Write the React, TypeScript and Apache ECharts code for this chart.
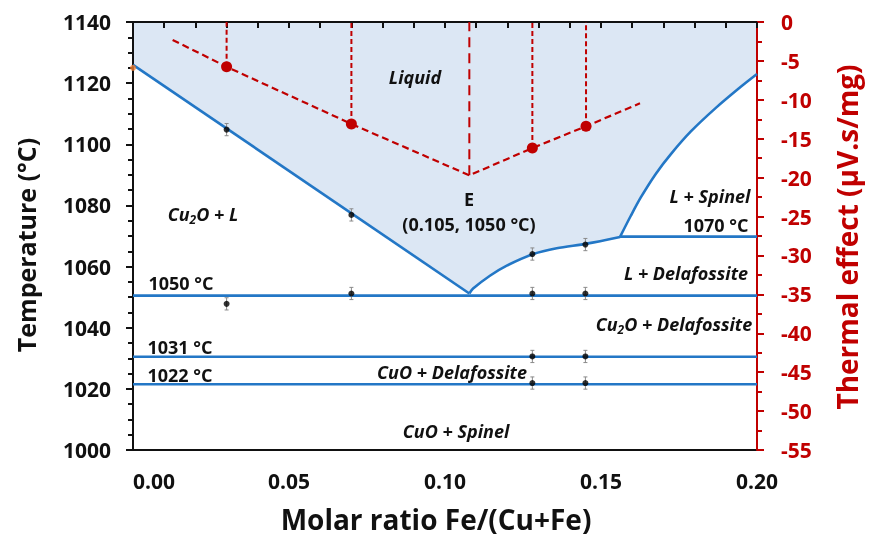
import React, { useEffect, useRef } from "react";
import * as echarts from "echarts";

// ---- data ----
// liquidus, left branch (Cu2O + L boundary)
const liqLeft: number[][] = [[0, 1126], [0.1078, 1051.2]];
// liquidus, eutectic to peritectic (delafossite branch)
const liqMid: number[][] = [
  [0.1078, 1051.2], [0.109, 1052.8], [0.1144, 1057], [0.1198, 1060.3], [0.1283, 1064.1],
  [0.1358, 1066], [0.1454, 1067.5], [0.1561, 1069.7],
];
// liquidus, spinel branch
const liqRight: number[][] = [
  [0.1561, 1069.7], [0.1596, 1076.7], [0.1628, 1082.7], [0.1676, 1090.4], [0.1724, 1096.8],
  [0.1788, 1104.2], [0.1869, 1112], [0.1949, 1118.9], [0.2, 1123],
];
const topT = 1140;
// isotherms [xStart, xEnd, T]
const isotherms: number[][] = [
  [0, 0.2, 1050.5], [0, 0.2, 1030.5], [0, 0.2, 1021.5], [0.1561, 0.2, 1069.8],
];
// measured DTA points (temperature)
const ptX = [0.03, 0.03, 0.07, 0.07, 0.128, 0.128, 0.128, 0.128, 0.145, 0.145, 0.145, 0.145];
const ptT = [1104.8, 1047.8, 1076.9, 1051.2, 1064.1, 1051.2, 1030.6, 1021.9, 1067.2, 1051.2, 1030.6, 1021.9];
const ptErr = [2, 2, 2, 2, 2, 2, 2, 2, 2, 2, 2, 2];
// thermal effect (right axis)
const thX = [0.0127, 0.03, 0.07, 0.1078, 0.128, 0.1452, 0.1625];
const thY = [-2.3, -5.75, -13.1, -19.7, -16.2, -13.4, -10.45];
const thMarked = [false, true, true, false, true, true, false];
const thDrop = [false, true, true, true, true, true, false];
const pureCu2O: number[][] = [[0, 1125]];

const BLUE = "#2377C6";
const RED = "#C00000";
const FILL = "#DCE7F4";
const FONT = "Open Sans";
const LBL = 18;

export default function App() {
  const ref = useRef<HTMLDivElement>(null);
  useEffect(() => {
    document.body.style.margin = "0";
    const chart = echarts.init(ref.current!, null, { renderer: "svg" });
    const fillPts = [...liqLeft, ...liqMid.slice(1), ...liqRight.slice(1), [0.2, topT], [0, topT]];

    const series: any[] = [
      {
        type: "custom",
        z: 0,
        silent: true,
        data: [[0, topT]],
        renderItem: (_p: any, api: any) => ({
          type: "polygon",
          shape: { points: fillPts.map((p) => api.coord(p)) },
          style: { fill: FILL },
        }),
      },
    ];
    [liqLeft, liqMid, liqRight].forEach((d, i) => {
      series.push({
        type: "line",
        data: d,
        smooth: i === 0 ? false : 0.3,
        symbol: "none",
        lineStyle: { color: BLUE, width: 2.6 },
        z: 3,
      });
    });
    isotherms.forEach((it) => {
      series.push({
        type: "line",
        data: [[it[0], it[2]], [it[1], it[2]]],
        symbol: "none",
        lineStyle: { color: BLUE, width: 2.6 },
        z: 3,
      });
    });
    series.push({
      type: "scatter",
      data: pureCu2O,
      symbolSize: 6,
      itemStyle: { color: "#ED7D31" },
      z: 4,
    });
    // error bars
    series.push({
      type: "custom",
      z: 4,
      data: ptX.map((x, i) => [x, ptT[i], ptErr[i]]),
      renderItem: (_p: any, api: any) => {
        const x = api.value(0), y = api.value(1), e = api.value(2);
        const a = api.coord([x, y + e]);
        const b = api.coord([x, y - e]);
        const st = { stroke: "#8a8a8a", lineWidth: 1 };
        return {
          type: "group",
          children: [
            { type: "line", shape: { x1: a[0], y1: a[1], x2: b[0], y2: b[1] }, style: st },
            { type: "line", shape: { x1: a[0] - 2, y1: a[1], x2: a[0] + 2, y2: a[1] }, style: st },
            { type: "line", shape: { x1: b[0] - 2, y1: b[1], x2: b[0] + 2, y2: b[1] }, style: st },
          ],
        };
      },
    });
    series.push({
      type: "scatter",
      data: ptX.map((x, i) => [x, ptT[i]]),
      symbolSize: 6,
      itemStyle: { color: "#000" },
      z: 5,
    });
    // thermal effect
    series.push({
      type: "line",
      yAxisIndex: 1,
      data: thX.map((x, i) => ({ value: [x, thY[i]], symbolSize: thMarked[i] ? 11 : 0 })),
      symbol: "circle",
      itemStyle: { color: RED },
      lineStyle: { color: RED, width: 2.2, type: [7, 4] },
      z: 6,
    });
    thX.forEach((x, i) => {
      if (!thDrop[i]) return;
      series.push({
        type: "line",
        yAxisIndex: 1,
        data: [[x, thY[i]], [x, 0]],
        symbol: "none",
        lineStyle: { color: RED, width: 2, type: thMarked[i] ? [5, 3] : [10, 6] },
        z: 6,
      });
    });

    const lbl = (text: string, x: number, y: number, italic = true, size = LBL) => ({
      type: "text",
      x,
      y,
      z: 100,
      style: {
        text,
        fill: "#111",
        font: `${italic ? "italic " : ""}bold ${size}px "${FONT}"`,
        align: "center",
        verticalAlign: "middle",
        rich: {
          m: { fontFamily: FONT, fontSize: size, fontWeight: "bold", fontStyle: italic ? "italic" : "normal", lineHeight: 22, verticalAlign: "middle" },
          s: { fontFamily: FONT, fontSize: 12, fontWeight: "bold", fontStyle: italic ? "italic" : "normal", lineHeight: 12, verticalAlign: "bottom" },
        },
      },
    });
    const title = (text: string, x: number, y: number, size: number, color: string, rot: number) => ({
      type: "text",
      x,
      y,
      rotation: rot,
      z: 100,
      style: {
        text,
        fill: color,
        font: `bold ${size}px "${FONT}"`,
        align: "center",
        verticalAlign: "middle",
      },
    });

    const tickLbl = { fontSize: 21, fontWeight: "bold", fontFamily: FONT };

    chart.setOption({
      animation: false,
      textStyle: { fontFamily: FONT },
      grid: { left: 133, top: 22, right: 112, bottom: 88, show: true, borderColor: "#111", borderWidth: 2, backgroundColor: "transparent" },
      xAxis: {
        type: "value",
        min: 0,
        max: 0.2,
        interval: 0.05,
        axisLine: { lineStyle: { color: "#111", width: 2 } },
        axisTick: { length: 6, lineStyle: { color: "#111", width: 2 } },
        minorTick: { show: true, splitNumber: 5, length: 6, lineStyle: { color: "#111", width: 2 } },
        splitLine: { show: false },
        axisLabel: { ...tickLbl, color: "#111", margin: 20, alignMinLabel: "left", formatter: (v: number) => v.toFixed(2) },
      },
      yAxis: [
        {
          type: "value",
          min: 1000,
          max: 1140,
          interval: 20,
          axisLine: { show: true, lineStyle: { color: "#111", width: 2 } },
          axisTick: { show: true, length: 7, lineStyle: { color: "#111", width: 2 } },
          minorTick: { show: true, splitNumber: 4, length: 5, lineStyle: { color: "#111", width: 2 } },
          splitLine: { show: false },
          axisLabel: { ...tickLbl, color: "#111", margin: 22, formatter: (v: number) => String(v) },
        },
        {
          type: "value",
          position: "right",
          min: -55,
          max: 0,
          interval: 5,
          axisLine: { show: true, lineStyle: { color: RED, width: 2 } },
          axisTick: { show: true, length: 7, lineStyle: { color: RED, width: 2 } },
          minorTick: { show: true, splitNumber: 2, length: 5, lineStyle: { color: RED, width: 2 } },
          splitLine: { show: false },
          axisLabel: { ...tickLbl, color: RED, margin: 24, formatter: (v: number) => String(v) },
        },
      ],
      graphic: [
        title("Temperature (°C)", 26, 245, 25, "#111", Math.PI / 2),
        title("Thermal effect (µV.s/mg)", 847, 237, 28, RED, Math.PI / 2),
        title("Molar ratio Fe/(Cu+Fe)", 436, 519, 28, "#111", 0),
        lbl("Liquid", 415, 77),
        lbl("{m|Cu}{s|2}{m|O + L}", 203, 214),
        lbl("E", 469, 199, false),
        lbl("(0.105, 1050 °C)", 469, 224, false),
        lbl("L + Spinel", 710, 196),
        lbl("1070 °C", 716, 225, false),
        lbl("L + Delafossite", 686, 273),
        lbl("1050 °C", 181, 283, false),
        lbl("{m|Cu}{s|2}{m|O + Delafossite}", 674, 324),
        lbl("1031 °C", 180, 347, false),
        lbl("CuO + Delafossite", 452, 372),
        lbl("1022 °C", 180, 375, false),
        lbl("CuO + Spinel", 456, 431),
      ],
      series,
    });
    return () => chart.dispose();
  }, []);
  return <div ref={ref} style={{ position: "fixed", left: 0, top: 0, width: 869, height: 538 }} />;
}
